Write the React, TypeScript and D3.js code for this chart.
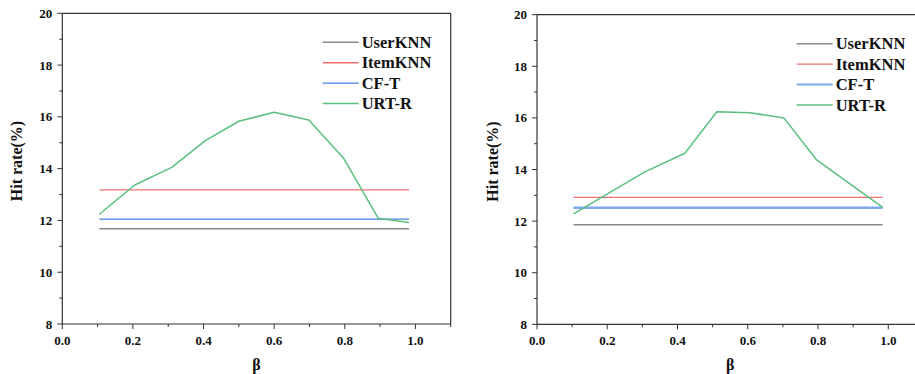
import React from "react";
import * as d3 from "d3";

const seriesNames = ["UserKNN", "ItemKNN", "CF-T", "URT-R"];
const xTicks = [0, 0.2, 0.4, 0.6, 0.8, 1.0];
const xMinor = [0.1, 0.3, 0.5, 0.7, 0.9, 1.1];
const yTicks = [8, 10, 12, 14, 16, 18, 20];
const yMinor = [9, 11, 13, 15, 17, 19];

const betaLeft = [0.105, 0.205, 0.31, 0.405, 0.5, 0.6, 0.698, 0.797, 0.895, 0.982];
const urtLeft = [12.24, 13.37, 14.05, 15.08, 15.83, 16.18, 15.88, 14.4, 12.08, 11.92];
const baseLeft = [11.68, 13.18, 12.05]; // UserKNN, ItemKNN, CF-T
const spanLeft = [0.105, 0.982];

const betaRight = [0.104, 0.307, 0.421, 0.512, 0.606, 0.703, 0.796, 0.984];
const urtRight = [12.28, 13.91, 14.63, 16.24, 16.2, 16.0, 14.37, 12.53];
const baseRight = [11.86, 12.92, 12.52];
const spanRight = [0.104, 0.984];

const FONT = "'Liberation Serif', 'Times New Roman', Times, serif";

type PanelProps = {
  x0: number; x1: number; y0: number; y1: number;
  beta: number[]; urt: number[]; base: number[]; span: number[];
  colors: string[]; widths: number[];
  legendX: number; legendY: number; legendGap: number;
  yLabelX: number; yLabelY: number;
};

function Panel(p: PanelProps) {
  const x = d3.scaleLinear().domain([0, 1.1]).range([p.x0, p.x1]);
  const y = d3.scaleLinear().domain([8, 20]).range([p.y1, p.y0]);
  const line = d3.line<[number, number]>().x(d => x(d[0])).y(d => y(d[1]));
  const urtPts: [number, number][] = p.beta.map((b, i) => [b, p.urt[i]]);
  const axisColor = "#333";
  return (
    <g>
      <line x1={p.x0} x2={p.x1} y1={p.y0} y2={p.y0} stroke={axisColor} strokeWidth={1.2} />
      <line x1={p.x1} x2={p.x1} y1={p.y0} y2={p.y1} stroke={axisColor} strokeWidth={1.2} />
      {p.base.map((v, i) => (
        <path key={i} d={line([[p.span[0], v], [p.span[1], v]]) || ""}
          stroke={p.colors[i]} strokeWidth={p.widths[i]} fill="none" />
      ))}
      <path d={line(urtPts) || ""} stroke={p.colors[3]} strokeWidth={p.widths[3]} fill="none" strokeLinejoin="round" />
      <line x1={p.x0} x2={p.x0} y1={p.y0} y2={p.y1} stroke={axisColor} strokeWidth={1.2} />
      <line x1={p.x0} x2={p.x1} y1={p.y1} y2={p.y1} stroke={axisColor} strokeWidth={1.2} />
      {yTicks.map(t => (
        <g key={"y" + t}>
          <line x1={p.x0 - 5} x2={p.x0} y1={y(t)} y2={y(t)} stroke={axisColor} strokeWidth={1} />
          <text x={p.x0 - 10} y={y(t)} dy="0.35em" textAnchor="end" fontFamily={FONT}
            fontWeight="bold" fontSize={13} fill="#111">{t}</text>
        </g>
      ))}
      {yMinor.map(t => (
        <line key={"ym" + t} x1={p.x0 - 3} x2={p.x0} y1={y(t)} y2={y(t)} stroke={axisColor} strokeWidth={1} />
      ))}
      {xTicks.map(t => (
        <g key={"x" + t}>
          <line x1={x(t)} x2={x(t)} y1={p.y1} y2={p.y1 + 5} stroke={axisColor} strokeWidth={1} />
          <text x={x(t)} y={p.y1 + 21} textAnchor="middle" fontFamily={FONT}
            fontWeight="bold" fontSize={13} fill="#111">{t.toFixed(1)}</text>
        </g>
      ))}
      {xMinor.map(t => (
        <line key={"xm" + t} x1={x(t)} x2={x(t)} y1={p.y1} y2={p.y1 + 3} stroke={axisColor} strokeWidth={1} />
      ))}
      <text x={(p.x0 + p.x1) / 2} y={p.y1 + 46} textAnchor="middle" fontFamily={FONT}
        fontWeight="bold" fontSize={16} fill="#111">β</text>
      <text transform={`translate(${p.yLabelX},${p.yLabelY}) rotate(-90)`} dy="0.35em"
        textAnchor="middle" fontFamily={FONT} fontWeight="bold" fontSize={16} fill="#111">Hit rate(%)</text>
      {seriesNames.map((n, i) => {
        const ly = p.legendY + i * p.legendGap;
        return (
          <g key={n}>
            <line x1={p.legendX} x2={p.legendX + 36} y1={ly} y2={ly}
              stroke={p.colors[i]} strokeWidth={Math.min(p.widths[i], 1.8)} />
            <text x={p.legendX + 39} y={ly} dy="0.35em" fontFamily={FONT} fontWeight="bold"
              fontSize={16.5} fill="#111">{n}</text>
          </g>
        );
      })}
    </g>
  );
}

export default function App() {
  return (
    <svg width={915} height={374} style={{ position: "absolute", left: 0, top: 0, background: "#fff" }}>
      <rect width={915} height={374} fill="#fff" />
      <Panel x0={62.3} x1={450.7} y0={13.3} y1={324} beta={betaLeft} urt={urtLeft}
        base={baseLeft} span={spanLeft}
        colors={["#8a8a8a", "#f07070", "#4a7fe0", "#5cbf80"]} widths={[1.6, 1.4, 1.4, 1.5]}
        legendX={322.7} legendY={42.3} legendGap={20.4} yLabelX={16.5} yLabelY={161} />
      <Panel x0={537} x1={923.4} y0={14.7} y1={324.3} beta={betaRight} urt={urtRight}
        base={baseRight} span={spanRight}
        colors={["#8a8a8a", "#f07070", "#7fa8ef", "#5cbf80"]} widths={[1.6, 1.4, 2.6, 1.5]}
        legendX={796.7} legendY={43.7} legendGap={20.4} yLabelX={492} yLabelY={161.5} />
    </svg>
  );
}
